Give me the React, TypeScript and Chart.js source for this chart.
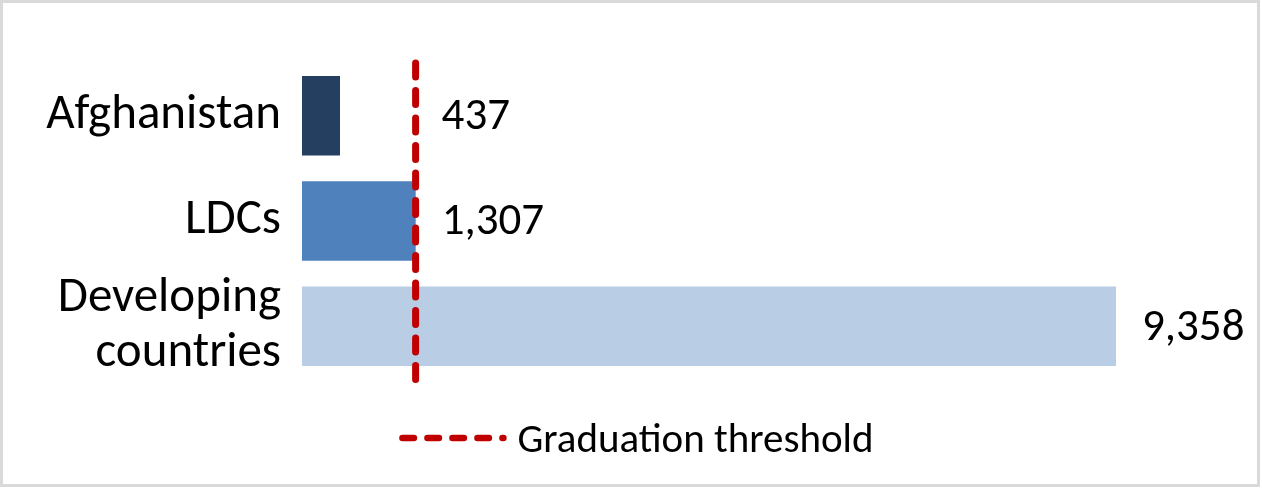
import { useEffect, useRef } from "react";
import { Chart, registerables } from "chart.js";

Chart.register(...registerables);

// GNI per capita (US$)
const categories = ["Afghanistan", "LDCs", ["Developing", "countries"]];
const gniValues = [437, 1307, 9358];
const barColors = ["#243F60", "#4F81BD", "#B9CDE5"];
const graduationThreshold = 1306;
const thresholdLabel = "Graduation threshold";

const FONT = "Carlito, Lato, sans-serif";
const RED = "#C00000";

// gray frame around the whole picture
const framePlugin = {
  id: "frame",
  beforeDraw(chart) {
    const { ctx } = chart;
    ctx.save();
    ctx.fillStyle = "#ffffff";
    ctx.fillRect(0, 0, chart.width, chart.height);
    ctx.strokeStyle = "#D9D9D9";
    ctx.lineWidth = 3;
    ctx.strokeRect(1.5, 1.5, chart.width - 5, chart.height - 5);
    ctx.restore();
  },
};

// dashed vertical line at the threshold + its legend entry under the plot
const thresholdPlugin = {
  id: "threshold",
  afterDatasetsDraw(chart) {
    const { ctx, chartArea } = chart;
    const x = chart.scales.x.getPixelForValue(graduationThreshold);
    ctx.save();
    ctx.strokeStyle = RED;
    ctx.lineWidth = 7;
    ctx.lineCap = "round";
    ctx.setLineDash([14, 13.5]);
    ctx.beginPath();
    ctx.moveTo(x, chartArea.top);
    ctx.lineTo(x, chartArea.bottom + 5);
    ctx.stroke();

    // legend
    ctx.font = `41px ${FONT}`;
    const textW = ctx.measureText(thresholdLabel).width;
    const lineLen = 101;
    const gap = 14;
    const total = lineLen + gap + textW;
    const startX = (chart.width - total) / 2 + 7;
    const legendY = chartArea.bottom + 59;
    ctx.lineWidth = 6.5;
    ctx.setLineDash([11.5, 13.5]);
    ctx.beginPath();
    ctx.moveTo(startX, legendY);
    ctx.lineTo(startX + lineLen, legendY);
    ctx.stroke();
    ctx.setLineDash([]);
    ctx.fillStyle = "#000000";
    ctx.textAlign = "left";
    ctx.textBaseline = "alphabetic";
    ctx.fillText(thresholdLabel, startX + lineLen + gap, legendY + 14);
    ctx.restore();
  },
};

// value labels to the right of the bars (and of the threshold line)
const valueLabelPlugin = {
  id: "valueLabels",
  afterDraw(chart) {
    const { ctx } = chart;
    const meta = chart.getDatasetMeta(0);
    const xScale = chart.scales.x;
    ctx.save();
    ctx.font = `45px ${FONT}`;
    ctx.fillStyle = "#000000";
    ctx.textAlign = "left";
    ctx.textBaseline = "middle";
    meta.data.forEach((bar, i) => {
      const v = gniValues[i];
      const x = xScale.getPixelForValue(Math.max(v, graduationThreshold)) + 26;
      ctx.fillText(v.toLocaleString("en-US"), x, bar.y + 2);
    });
    ctx.restore();
  },
};

export default function App() {
  const canvasRef = useRef(null);

  useEffect(() => {
    document.body.style.margin = "0";
    const ctx = canvasRef.current.getContext("2d");
    const chart = new Chart(ctx, {
      type: "bar",
      data: {
        labels: categories,
        datasets: [
          {
            label: "GNI per capita",
            data: gniValues,
            backgroundColor: barColors,
            categoryPercentage: 1,
            barPercentage: 0.755,
          },
        ],
      },
      options: {
        indexAxis: "y",
        animation: false,
        responsive: false,
        layout: {
          padding: { top: 63, right: 146, left: 0, bottom: 110 },
        },
        scales: {
          x: {
            display: false,
            min: 0,
            max: 9358,
          },
          y: {
            grid: { display: false, drawTicks: false },
            border: { display: false },
            ticks: {
              color: "#000000",
              padding: 21,
              autoSkip: false,
              font: { family: FONT, size: 49, lineHeight: 1.12 },
            },
            afterFit(scale) {
              scale.width = 302;
              scale.paddingTop = 0;
              scale.paddingBottom = 0;
            },
          },
        },
        plugins: {
          tooltip: { enabled: false },
          legend: { display: false },
        },
      },
      plugins: [framePlugin, thresholdPlugin, valueLabelPlugin],
    });
    return () => {
      chart.destroy();
    };
  }, []);

  return <canvas ref={canvasRef} width={1262} height={489} style={{ display: "block" }} />;
}
